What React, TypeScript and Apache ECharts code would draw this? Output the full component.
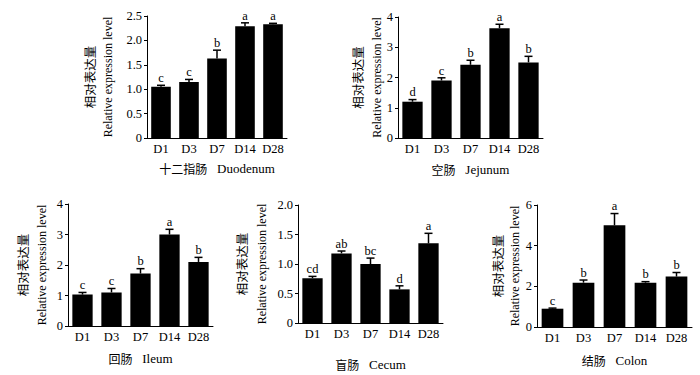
import React, { useEffect, useRef } from "react";
import * as echarts from "echarts";

const categories = ["D1", "D3", "D7", "D14", "D28"];

const duodenumMean = [1.05, 1.15, 1.63, 2.29, 2.33];
const duodenumErr = [0.03, 0.05, 0.17, 0.07, 0.02];
const duodenumSig = ["c", "c", "b", "a", "a"];

const jejunumMean = [1.2, 1.9, 2.42, 3.63, 2.5];
const jejunumErr = [0.07, 0.09, 0.15, 0.13, 0.2];
const jejunumSig = ["d", "c", "b", "a", "b"];

const ileumMean = [1.03, 1.1, 1.72, 3.0, 2.1];
const ileumErr = [0.07, 0.13, 0.16, 0.17, 0.15];
const ileumSig = ["c", "c", "b", "a", "b"];

const cecumMean = [0.76, 1.18, 1.0, 0.57, 1.35];
const cecumErr = [0.03, 0.04, 0.1, 0.06, 0.17];
const cecumSig = ["cd", "ab", "bc", "d", "a"];

const colonMean = [0.9, 2.18, 5.0, 2.18, 2.48];
const colonErr = [0.03, 0.13, 0.58, 0.05, 0.2];
const colonSig = ["c", "b", "a", "b", "b"];

const panelTitlesCn = ["十二指肠", "空肠", "回肠", "盲肠", "结肠"];
const panelTitlesEn = ["Duodenum", "Jejunum", "Ileum", "Cecum", "Colon"];
const yMaxes = [2.5, 4, 4, 2.0, 6];
const yIntervals = [0.5, 1, 1, 0.5, 2];
const yDecimals = [1, 0, 0, 1, 0];
const yNameCn = "相对表达量";
const yNameEn = "Relative expression level";

const FONT = "'Liberation Serif', 'Times New Roman', 'Noto Sans CJK SC', serif";
const CJK = "'Noto Sans CJK SC', 'Liberation Serif', serif";

export default function App() {
  const ref = useRef<HTMLDivElement>(null);
  useEffect(() => {
    if (!ref.current) return;
    const chart = echarts.init(ref.current, null, { renderer: "svg" });
    const means = [duodenumMean, jejunumMean, ileumMean, cecumMean, colonMean];
    const errs = [duodenumErr, jejunumErr, ileumErr, cecumErr, colonErr];
    const sigs = [duodenumSig, jejunumSig, ileumSig, cecumSig, colonSig];
    const layout = [
      { left: 147, top: 16, width: 140, height: 122, gap: 24, cnX: 89, enX: 108 },
      { left: 398, top: 17, width: 145, height: 121, gap: 25, cnX: 357, enX: 377 },
      { left: 68, top: 204, width: 145, height: 122, gap: 26, cnX: 22, enX: 42 },
      { left: 298, top: 205, width: 145, height: 118, gap: 35, cnX: 241, enX: 262 },
      { left: 537, top: 205, width: 155, height: 122, gap: 27, cnX: 497, enX: 515 },
    ];
    const grid: any[] = [];
    const xAxis: any[] = [];
    const yAxis: any[] = [];
    const series: any[] = [];
    const graphic: any[] = [];
    layout.forEach((L, k) => {
      grid.push({ left: L.left, top: L.top, width: L.width, height: L.height });
      xAxis.push({
        type: "category",
        gridIndex: k,
        data: categories,
        boundaryGap: true,
        axisLine: { lineStyle: { color: "#000", width: 1 } },
        axisTick: { show: false },
        axisLabel: { color: "#000", fontSize: 12.5, fontFamily: FONT, margin: 5 },
        name: "{cn|" + panelTitlesCn[k] + "}{en|   " + panelTitlesEn[k] + "}",
        nameLocation: "middle",
        nameGap: L.gap,
        nameTextStyle: {
          color: "#000",
          fontSize: 13,
          fontFamily: FONT,
          rich: {
            cn: { fontSize: 12, fontFamily: CJK, color: "#000" },
            en: { fontSize: 13, fontFamily: FONT, color: "#000" },
          },
        },
      });
      const dec = yDecimals[k];
      yAxis.push({
        type: "value",
        gridIndex: k,
        min: 0,
        max: yMaxes[k],
        interval: yIntervals[k],
        splitLine: { show: false },
        axisLine: { show: true, lineStyle: { color: "#000", width: 1 } },
        axisTick: { show: true, length: 3, lineStyle: { color: "#000" } },
        axisLabel: {
          color: "#000",
          fontSize: 12.5,
          fontFamily: FONT,
          margin: 5,
          formatter: (v: number) => (v === 0 ? "0" : v.toFixed(dec)),
        },
      });
      series.push({
        type: "bar",
        xAxisIndex: k,
        yAxisIndex: k,
        data: means[k],
        barWidth: "70%",
        itemStyle: { color: "#000" },
      });
      const sig = sigs[k];
      series.push({
        type: "custom",
        xAxisIndex: k,
        yAxisIndex: k,
        z: 5,
        data: means[k].map((m, i) => [i, m, errs[k][i]]),
        renderItem: (params: any, api: any) => {
          const i = api.value(0);
          const m = api.value(1);
          const e = api.value(2);
          const top = api.coord([i, m + e]);
          const base = api.coord([i, m]);
          const cw = 4;
          return {
            type: "group",
            children: [
              { type: "line", shape: { x1: top[0], y1: base[1], x2: top[0], y2: top[1] }, style: { stroke: "#000", lineWidth: 1.5 } },
              { type: "line", shape: { x1: top[0] - cw, y1: top[1], x2: top[0] + cw, y2: top[1] }, style: { stroke: "#000", lineWidth: 1.5 } },
              {
                type: "text",
                x: top[0],
                y: top[1] - 1,
                style: { text: sig[params.dataIndex], align: "center", verticalAlign: "bottom", fontSize: 12.5, fontFamily: FONT, fill: "#000" },
              },
            ],
          };
        },
      });
      const cy = L.top + L.height / 2;
      graphic.push({
        type: "text",
        x: L.cnX,
        y: cy,
        rotation: Math.PI / 2,
        style: { text: yNameCn, align: "center", verticalAlign: "middle", fontSize: 12.5, fontFamily: CJK, fill: "#000" },
      });
      graphic.push({
        type: "text",
        x: L.enX,
        y: cy,
        rotation: Math.PI / 2,
        style: { text: yNameEn, align: "center", verticalAlign: "middle", fontSize: 12, fontFamily: FONT, fill: "#000" },
      });
    });
    chart.setOption({
      animation: false,
      backgroundColor: "#fff",
      grid,
      xAxis,
      yAxis,
      series,
      graphic,
    });
    return () => chart.dispose();
  }, []);
  return <div ref={ref} style={{ position: "absolute", left: 0, top: 0, width: 700, height: 375 }} />;
}
